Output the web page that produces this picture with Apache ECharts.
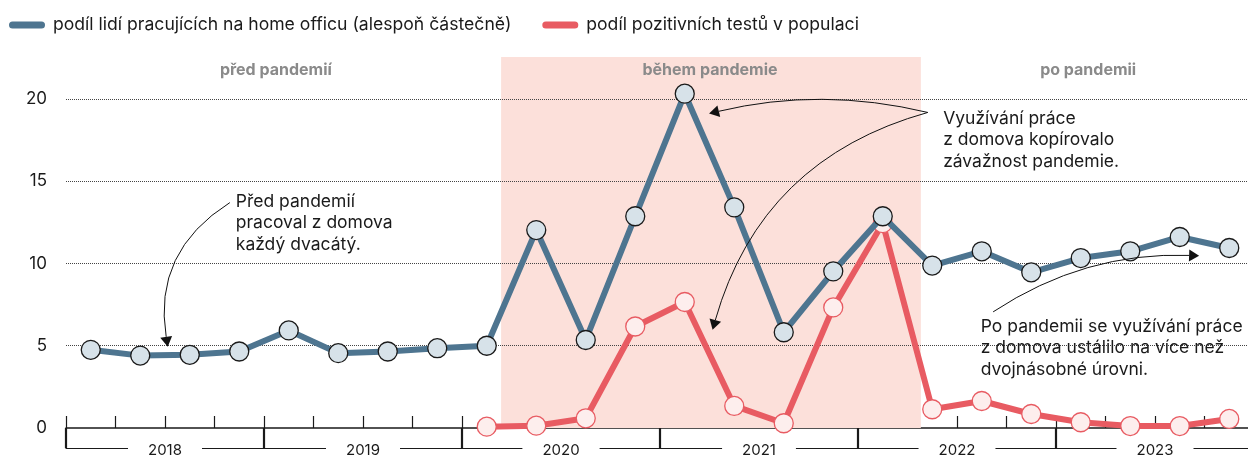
<!DOCTYPE html>
<html>
<head>
<meta charset="utf-8">
<script src="https://cdn.jsdelivr.net/npm/echarts@6/dist/echarts.min.js"></script>
<style>
html, body { margin: 0; padding: 0; background: #fff; }
#charts_box { width: 1248px; height: 457px; }
</style>
</head>
<body>
<div id="charts_box"></div>
<script>
// čtvrtletí 2018 Q1 .. 2023 Q4 (24 hodnot)
var years = ['2018', '2019', '2020', '2021', '2022', '2023'];
var homeOffice = [4.75, 4.4, 4.45, 4.65, 5.93, 4.55, 4.65, 4.85, 5.0, 12.03, 5.35, 12.87,
                  20.32, 13.41, 5.82, 9.52, 12.87, 9.87, 10.74, 9.46, 10.33, 10.74, 11.61, 10.94];
var positiveTests = [null, null, null, null, null, null, null, null,
                     0.08, 0.14, 0.59, 6.17, 7.66, 1.34, 0.29, 7.33,
                     12.45, 1.14, 1.64, 0.85, 0.35, 0.12, 0.12, 0.55];
var yTicks = [5, 10, 15, 20];
var yMax = 22.55;
var pandemicSpan = [8.79, 17.27];   // v jednotkách čtvrtletí

var nameBlue = 'podíl lidí pracujících na home officu (alespoň částečně)';
var nameRed = 'podíl pozitivních testů v populaci';

var periodLabels = [
    { text: 'před pandemií', at: [4.24, 21.74] },
    { text: 'během pandemie', at: [13.01, 21.74] },
    { text: 'po pandemii', at: [20.65, 21.74] }
];
var notes = [
    { text: 'Před pandemií\npracoval z domova\nkaždý dvacátý.', at: [3.43, 12.45] },
    { text: 'Využívání práce\nz domova kopírovalo\nzávažnost pandemie.', at: [17.72, 17.5] },
    { text: 'Po pandemii se využívání práce\nz domova ustálilo na více než\ndvojnásobné úrovni.', at: [18.48, 4.87] }
];
// šipky: odkud, kam, zakřivení
var arrows = [
    { from: [3.31, 13.7], to: [2.04, 5.24], bend: -0.33 },
    { from: [17.41, 19.18], to: [13.09, 19.18], bend: -0.12 },
    { from: [17.41, 19.18], to: [13.09, 6.27], bend: -0.28 },
    { from: [18.73, 7.06], to: [22.79, 10.48], bend: 0.16 }
];

window.onload = function () {
    var myChart = echarts.init(document.getElementById('charts_box'));

    function pairs(arr) {
        return arr.map(function (v, i) { return [i + 0.5, v]; });
    }

    var pill = 'path://M3.5,0 H32.5 A3.5,3.5 0 0 1 32.5,7 H3.5 A3.5,3.5 0 0 1 3.5,0 Z';

    function renderArrow(params, api) {
        var p1 = api.coord([api.value(0), api.value(1)]);
        var p2 = api.coord([api.value(2), api.value(3)]);
        var c = api.value(4);
        var cp = [
            (p1[0] + p2[0]) / 2 - (p1[1] - p2[1]) * c,
            (p1[1] + p2[1]) / 2 - (p2[0] - p1[0]) * c
        ];
        var dx = p2[0] - cp[0], dy = p2[1] - cp[1];
        var len = Math.sqrt(dx * dx + dy * dy) || 1;
        var ux = dx / len, uy = dy / len;
        var tip = [p2[0] + ux * 5, p2[1] + uy * 5];
        var base = [p2[0] - ux * 5, p2[1] - uy * 5];
        var w = 6;
        return {
            type: 'group',
            children: [
                {
                    type: 'bezierCurve',
                    shape: { x1: p1[0], y1: p1[1], x2: base[0], y2: base[1], cpx1: cp[0], cpy1: cp[1] },
                    style: { stroke: '#111', fill: null, lineWidth: 1 }
                },
                {
                    type: 'polygon',
                    shape: { points: [tip, [base[0] - uy * w, base[1] + ux * w], [base[0] + uy * w, base[1] - ux * w]] },
                    style: { fill: '#111' }
                }
            ]
        };
    }

    var option = {
        animation: false,
        textStyle: { fontFamily: 'Inter' },
        legend: {
            left: 4,
            top: 11,
            icon: pill,
            itemWidth: 36,
            itemHeight: 7,
            itemGap: 31,
            selectedMode: false,
            textStyle: { fontSize: 17.6, color: '#1a1a1a', padding: [0, 0, 0, 3] },
            data: [
                { name: nameBlue, itemStyle: { color: '#4e7590', borderWidth: 0 } },
                { name: nameRed, itemStyle: { color: '#e85b62', borderWidth: 0 } }
            ]
        },
        grid: { left: 66, right: -6, top: 57, bottom: 29, outerBoundsMode: 'none' },
        xAxis: [
            {
                type: 'value',
                min: 0,
                max: 24,
                interval: 1,
                axisLine: { lineStyle: { color: '#1a1a1a', width: 1.5 } },
                axisTick: { inside: true, length: 12, lineStyle: { color: '#1a1a1a', width: 1.2 } },
                axisLabel: { show: false },
                splitLine: { show: false }
            },
            {
                type: 'value',
                min: 0,
                max: 24,
                interval: 4,
                position: 'bottom',
                offset: 20,
                axisLine: { show: true, lineStyle: { color: '#1a1a1a', width: 1.2 } },
                axisTick: { show: true, inside: true, length: 20, lineStyle: { color: '#1a1a1a', width: 2.2 } },
                axisLabel: { show: false },
                splitLine: { show: false }
            },
            {
                type: 'category',
                data: years,
                position: 'bottom',
                offset: 20,
                boundaryGap: true,
                axisLine: { show: false },
                axisTick: { show: false },
                axisLabel: {
                    fontSize: 15,
                    color: '#1a1a1a',
                    margin: 2,
                    verticalAlign: 'middle',
                    backgroundColor: '#fff',
                    padding: [2, 20]
                }
            }
        ],
        yAxis: {
            type: 'value',
            min: 0,
            max: yMax,
            interval: 5,
            axisLine: { show: false },
            axisTick: { show: false },
            splitLine: { show: false },
            axisLabel: {
                fontSize: 17,
                color: '#1a1a1a',
                margin: 19,
                formatter: function (v) { return v % 5 === 0 ? v : ''; }
            }
        },
        series: [
            {
                name: nameRed,
                type: 'line',
                z: 2,
                data: pairs(positiveTests),
                symbol: 'circle',
                symbolSize: 19,
                lineStyle: { color: '#e85b62', width: 6 },
                itemStyle: { color: '#fdeeed', borderColor: '#e85b62', borderWidth: 1.3 },
                emphasis: { disabled: true },
                markArea: {
                    silent: true,
                    z: 1,
                    itemStyle: { color: '#fce0da' },
                    data: [[
                        { xAxis: pandemicSpan[0], yAxis: 0 },
                        { xAxis: pandemicSpan[1], yAxis: yMax }
                    ]]
                },
                markLine: {
                    silent: true,
                    z: 1.5,
                    symbol: ['none', 'none'],
                    label: { show: false },
                    lineStyle: { color: '#444', width: 1, type: 'dotted' },
                    emphasis: { disabled: true },
                    data: yTicks.map(function (t) { return { yAxis: t }; })
                },
                markPoint: {
                    silent: true,
                    z: 6,
                    symbol: 'circle',
                    symbolSize: 0,
                    label: {
                        show: true,
                        position: 'inside',
                        fontSize: 16,
                        fontWeight: 'bold',
                        color: '#8a8a8a'
                    },
                    data: periodLabels.map(function (p) {
                        return { coord: p.at, value: p.text, label: { formatter: p.text } };
                    })
                }
            },
            {
                name: nameBlue,
                type: 'line',
                z: 3,
                data: pairs(homeOffice),
                symbol: 'circle',
                symbolSize: 19,
                lineStyle: { color: '#4e7590', width: 6 },
                itemStyle: { color: '#d7e2e9', borderColor: '#1a1a1a', borderWidth: 1.3 },
                emphasis: { disabled: true },
                markPoint: {
                    silent: true,
                    z: 6,
                    symbol: 'circle',
                    symbolSize: 0,
                    label: {
                        show: true,
                        position: 'right',
                        distance: 0,
                        align: 'left',
                        verticalAlign: 'middle',
                        fontSize: 17.5,
                        lineHeight: 21.5,
                        color: '#1a1a1a'
                    },
                    data: notes.map(function (n) {
                        return { coord: n.at, value: 0, label: { formatter: n.text } };
                    })
                }
            },
            {
                name: 'arrows',
                type: 'custom',
                z: 6,
                silent: true,
                clip: false,
                renderItem: renderArrow,
                encode: { x: [0, 2], y: [1, 3] },
                data: arrows.map(function (a) {
                    return [a.from[0], a.from[1], a.to[0], a.to[1], a.bend];
                })
            }
        ]
    };

    myChart.setOption(option);
};
</script>
</body>
</html>
